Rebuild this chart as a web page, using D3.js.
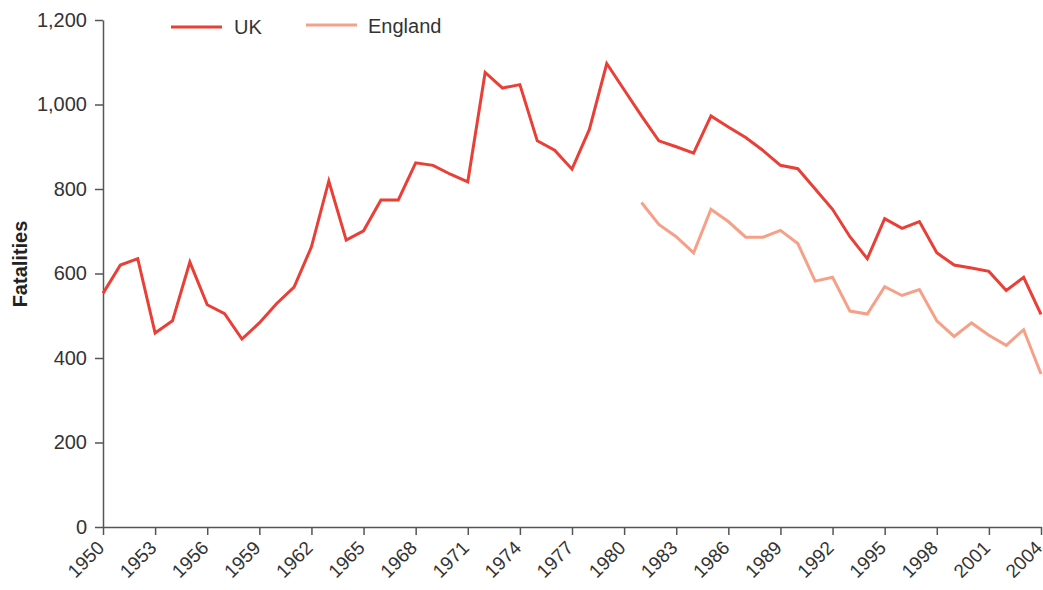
<!DOCTYPE html>
<html>
<head>
<meta charset="utf-8">
<script src="https://cdn.jsdelivr.net/npm/d3@7"></script>
<style>
  body { margin: 0; background: #fff; }
  text { font-family: "Liberation Sans", Arial, sans-serif; }
</style>
</head>
<body>
<script>
const years = d3.range(1950, 2005);
const ukValues = [553, 620, 635, 459, 488, 627, 526, 505, 445, 483,
                  529, 568, 663, 819, 679, 701, 774, 774, 862, 856,
                  835, 817, 1076, 1039, 1047, 914, 892, 847, 941, 1097,
                  1035, 973, 914, 900, 885, 973, 947, 922, 891, 856,
                  848, 800, 752, 687, 635, 730, 707, 723, 649, 620,
                  613, 605, 560, 591, 503];
const englandYears = d3.range(1981, 2005);
const englandValues = [768, 716, 687, 649, 752, 723, 686, 686, 702, 671,
                       582, 591, 511, 504, 569, 548, 562, 488, 451, 483,
                       454, 430, 467, 362];
const xTickYears = d3.range(1950, 2005, 3);
const yTicks = [0, 200, 400, 600, 800, 1000, 1200];
const seriesNames = ['UK', 'England'];
const seriesColors = ['#ea3f37', '#f7a088'];

const width = 1043;
const height = 590;
const margin = {top: 20, right: 2, bottom: 63, left: 103};
const innerWidth = width - margin.left - margin.right;
const innerHeight = height - margin.top - margin.bottom;

const svg = d3.select('body').append('svg').attr('width', width).attr('height', height);
const grp = svg.append('g').attr('transform', `translate(${margin.left}, ${margin.top})`);

const xScale = d3.scaleLinear().domain([1950, 2004]).range([0, innerWidth]);
const yScale = d3.scaleLinear().domain([0, 1200]).range([innerHeight, 0]);

// axes
const xAxis = grp.append('g').attr('transform', `translate(0, ${innerHeight})`)
  .call(d3.axisBottom(xScale).tickValues(xTickYears).tickFormat(d3.format('d')).tickSize(8).tickSizeOuter(0));

const yAxis = grp.append('g')
  .call(d3.axisLeft(yScale).tickValues(yTicks).tickFormat(d3.format(',')).tickSize(8).tickSizeOuter(0).tickPadding(8));

grp.selectAll('.domain, .tick line').attr('stroke', '#555').attr('stroke-width', 1.5);
grp.selectAll('.tick text').attr('fill', '#333').attr('font-size', 20)
  .style('font-family', '"Liberation Sans", Arial, sans-serif');

// rotated year labels
xAxis.selectAll('.tick text')
  .attr('x', 0).attr('y', 0).attr('dy', 0)
  .attr('font-size', 19)
  .attr('transform', 'translate(2, 22) rotate(-45)')
  .attr('text-anchor', 'end');

// y axis title
svg.append('text')
  .attr('transform', `translate(27, 264) rotate(-90)`)
  .attr('text-anchor', 'middle')
  .attr('font-size', 20).attr('font-weight', 'bold').attr('fill', '#222')
  .text('Fatalities');

// lines
const line = d3.line().x(d => xScale(d[0])).y(d => yScale(d[1]));
const series = [
  d3.zip(years, ukValues),
  d3.zip(englandYears, englandValues)
];
grp.selectAll('path.series')
  .data(series)
  .join('path')
  .attr('class', 'series')
  .attr('d', line)
  .attr('fill', 'none')
  .attr('stroke', (d, i) => seriesColors[i])
  .attr('stroke-width', 3)
  .attr('stroke-linejoin', 'miter');

// legend
const legend = svg.append('g');
const legendX = [171, 306];
seriesNames.forEach((name, i) => {
  const g = legend.append('g').attr('transform', `translate(${legendX[i]}, ${i === 0 ? 27 : 25})`);
  g.append('line').attr('x1', 0).attr('x2', 51).attr('y1', 0).attr('y2', 0)
    .attr('stroke', seriesColors[i]).attr('stroke-width', 3);
  g.append('text').attr('x', i === 0 ? 63 : 62).attr('y', i === 0 ? 7 : 8)
    .attr('font-size', 20).attr('fill', '#333').text(name);
});
</script>
</body>
</html>
